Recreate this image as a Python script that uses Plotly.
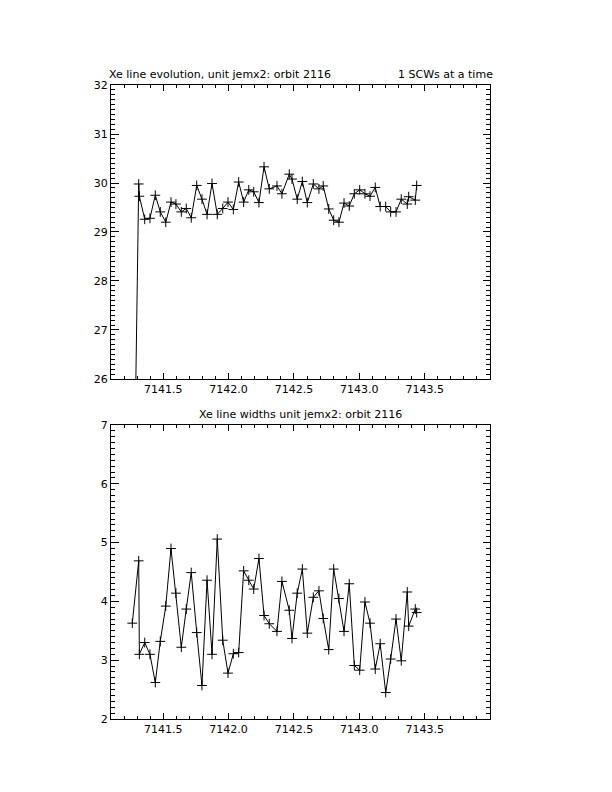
import plotly.graph_objects as go

# Time (days) of each SCW
times = [7141.263, 7141.312, 7141.317, 7141.358, 7141.398, 7141.439, 7141.477, 7141.519,
         7141.559, 7141.597, 7141.638, 7141.676, 7141.714, 7141.756, 7141.796, 7141.835,
         7141.873, 7141.913, 7141.955, 7141.995, 7142.036, 7142.077, 7142.115, 7142.154,
         7142.192, 7142.232, 7142.271, 7142.311, 7142.370, 7142.408, 7142.464, 7142.485,
         7142.525, 7142.564, 7142.602, 7142.648, 7142.691, 7142.724, 7142.766, 7142.804,
         7142.844, 7142.883, 7142.923, 7142.962, 7143.003, 7143.043, 7143.082, 7143.122,
         7143.160, 7143.202, 7143.240, 7143.281, 7143.321, 7143.367, 7143.378, 7143.428,
         7143.439]

# Xe line position
line_pos = [21.0, 29.98, 29.73, 29.26, 29.28, 29.75, 29.41, 29.20,
            29.61, 29.57, 29.41, 29.48, 29.29, 29.95, 29.67, 29.36,
            29.99, 29.36, 29.48, 29.61, 29.46, 30.02, 29.61, 29.86,
            29.82, 29.60, 30.33, 29.88, 29.94, 29.78, 30.18, 30.08,
            29.67, 30.03, 29.60, 29.98, 29.88, 29.94, 29.47, 29.24,
            29.20, 29.59, 29.53, 29.78, 29.86, 29.78, 29.73, 29.91,
            29.52, 29.52, 29.41, 29.41, 29.67, 29.57, 29.72, 29.65,
            29.95]

# Xe line width
line_width = [3.63, 4.69, 3.10, 3.30, 3.10, 2.62, 3.32, 3.92,
              4.90, 4.14, 3.22, 3.87, 4.49, 3.47, 2.57, 4.36,
              3.10, 5.06, 3.34, 2.78, 3.11, 3.13, 4.52, 4.36,
              4.21, 4.73, 3.76, 3.62, 3.49, 4.34, 3.85, 3.37,
              4.14, 4.55, 3.46, 4.07, 4.18, 3.71, 3.18, 4.55,
              4.05, 3.49, 4.30, 2.91, 2.83, 3.99, 3.63, 2.85,
              3.28, 2.45, 3.02, 3.70, 2.99, 4.16, 3.58, 3.87,
              3.81]

x_ticks = [7141.5, 7142.0, 7142.5, 7143.0, 7143.5]
top_title_left = "Xe line evolution, unit jemx2: orbit 2116"
top_title_right = "1 SCWs at a time"
bottom_title = "Xe line widths unit jemx2: orbit 2116"

FONT = dict(family="DejaVu Sans", size=11, color="black")

fig = go.Figure()
marker = dict(symbol="cross-thin", size=7, line=dict(width=1, color="black"), color="black")
fig.add_trace(go.Scatter(x=times, y=line_pos, mode="lines+markers", xaxis="x", yaxis="y",
                         line=dict(color="black", width=1), marker=marker, cliponaxis=True))
fig.add_trace(go.Scatter(x=times, y=line_width, mode="lines+markers", xaxis="x2", yaxis="y2",
                         line=dict(color="black", width=1), marker=marker, cliponaxis=True))

def xaxis_style(anchor):
    return dict(range=[7141.1, 7144.0], tickvals=x_ticks, ticktext=[f"{v:.1f}" for v in x_ticks],
                ticks="inside", ticklen=6, tickwidth=1, tickcolor="black",
                minor=dict(ticks="inside", dtick=0.1, tick0=7141.0, ticklen=3, tickcolor="black", tickwidth=1),
                showline=True, linecolor="black", linewidth=1, mirror="allticks",
                showgrid=False, zeroline=False, tickfont=FONT, anchor=anchor)

def yaxis_style(rng, domain, anchor):
    return dict(range=rng, dtick=1, tick0=0, domain=domain,
                ticks="inside", ticklen=7.5, tickwidth=1, tickcolor="black",
                minor=dict(ticks="inside", dtick=0.1, ticklen=3.7, tickcolor="black", tickwidth=1),
                showline=True, linecolor="black", linewidth=1, mirror="allticks",
                showgrid=False, zeroline=False, tickfont=FONT, anchor=anchor)

# the page body has an 8px margin, so the figure is drawn 8px in from the window edge
fig.update_layout(
    width=596, height=776,
    margin=dict(l=103, r=114, t=77, b=65),
    paper_bgcolor="white", plot_bgcolor="white",
    showlegend=False,
    xaxis=xaxis_style("y"),
    yaxis=yaxis_style([26, 32], [0.5363, 1.0], "x"),
    xaxis2=xaxis_style("y2"),
    yaxis2=yaxis_style([2, 7], [0.0, 0.4637], "x2"),
    font=FONT,
    annotations=[
        dict(text=top_title_left, xref="paper", yref="paper", x=-0.0106, y=1.0158,
             xanchor="left", yanchor="middle", showarrow=False, font=FONT),
        dict(text=top_title_right, xref="paper", yref="paper", x=1.0132, y=1.0158,
             xanchor="right", yanchor="middle", showarrow=False, font=FONT),
        dict(text=bottom_title, xref="paper", yref="paper", x=0.4987, y=0.481,
             xanchor="center", yanchor="middle", showarrow=False, font=FONT),
    ],
)

fig.write_html("out.html")
